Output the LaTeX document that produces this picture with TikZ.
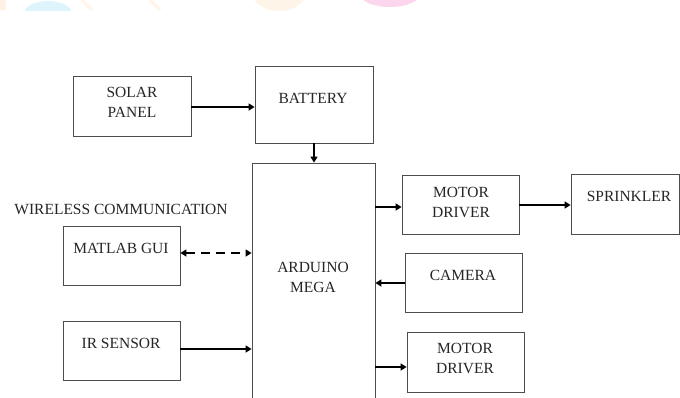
\documentclass[tikz,border=0pt]{standalone}
\usepackage{fontspec}
\setmainfont{Liberation Serif}
\usetikzlibrary{arrows.meta}
\begin{document}
\begin{tikzpicture}[x=1pt,y=-1pt,
  box/.style={draw=black!70, line width=0.8pt, inner sep=0pt},
  lbl/.style={inner sep=0pt, align=center, text=black!85, font=\fontsize{15.5}{20}\selectfont},
  arr/.style={line width=1.8pt, -{Triangle[length=6pt,width=7pt]}},
  darr/.style={line width=1.8pt, dash pattern=on 9pt off 6pt, {Triangle[length=6pt,width=7pt]}-{Triangle[length=6pt,width=7pt]}}]
\useasboundingbox (0,0) rectangle (680,397);
\clip (0,0) rectangle (680,397);
\fill[white] (0,0) rectangle (680,397);
% faint watermark remnants at the top edge
\begin{scope}
\clip (0,0) rectangle (680,10);
\fill[orange!10] (0,0) rectangle (6,10);
\fill[cyan!13] (48,14) ellipse [x radius=24, y radius=13];
\draw[orange!8, line width=3pt] (82,0) -- (92,10);
\draw[orange!8, line width=3pt] (150,0) -- (160,10);
\fill[orange!9] (279,-8) ellipse [x radius=27, y radius=19];
\fill[magenta!16] (390,-6) ellipse [x radius=30, y radius=13];
\end{scope}
% boxes
\node[box, minimum width=118pt, minimum height=60pt] (sol) at (132,106) {};
\node[box, minimum width=118pt, minimum height=77pt] (bat) at (314,104.5) {};
\node[box, minimum width=123pt, minimum height=267pt] (ard) at (313.5,296.5) {};
\node[box, minimum width=117pt, minimum height=59pt] (mat) at (121.5,255.5) {};
\node[box, minimum width=117pt, minimum height=59pt] (irs) at (121.5,350.5) {};
\node[box, minimum width=117pt, minimum height=59pt] (md1) at (460.5,204.5) {};
\node[box, minimum width=108pt, minimum height=60pt] (spr) at (625,204) {};
\node[box, minimum width=117pt, minimum height=59pt] (cam) at (463.5,282.5) {};
\node[box, minimum width=117pt, minimum height=60pt] (md2) at (465.5,362) {};
% labels
\node[lbl] (tsol) at (132,102) {SOLAR\\PANEL};
\node[lbl] (tbat) at (313,98) {BATTERY};
\node[lbl] (tard) at (313,277) {ARDUINO\\MEGA};
\node[lbl] (twir) at (121,209) {WIRELESS COMMUNICATION};
\node[lbl] (tmat) at (121,248) {MATLAB GUI};
\node[lbl] (tirs) at (121,343) {IR SENSOR};
\node[lbl] (tmd1) at (461,202) {MOTOR\\DRIVER};
\node[lbl] (tspr) at (629,196) {SPRINKLER};
\node[lbl] (tcam) at (463,275) {CAMERA};
\node[lbl] (tmd2) at (465,358) {MOTOR\\DRIVER};
% connector anchors
\coordinate (solE) at ([yshift=-1pt]sol.east);
\coordinate (matE) at ([yshift=2.5pt]mat.east);
\coordinate (irsE) at ([yshift=1.5pt]irs.east);
\coordinate (md1W) at ([yshift=-2.5pt]md1.west);
\coordinate (md1E) at ([yshift=-0.5pt]md1.east);
\coordinate (camW) at ([yshift=-0.5pt]cam.west);
\coordinate (md2W) at ([yshift=-5pt]md2.west);
% connectors
\draw[arr] (solE) -- (bat.west |- solE);
\draw[arr] (bat.south) -- (ard.north -| bat.south);
\draw[darr] (matE) -- (ard.west |- matE);
\draw[arr] (irsE) -- (ard.west |- irsE);
\draw[arr] (ard.east |- md1W) -- (md1W);
\draw[arr] (md1E) -- (spr.west |- md1E);
\draw[arr] (camW) -- (ard.east |- camW);
\draw[arr] (ard.east |- md2W) -- (md2W);
\end{tikzpicture}
\end{document}
